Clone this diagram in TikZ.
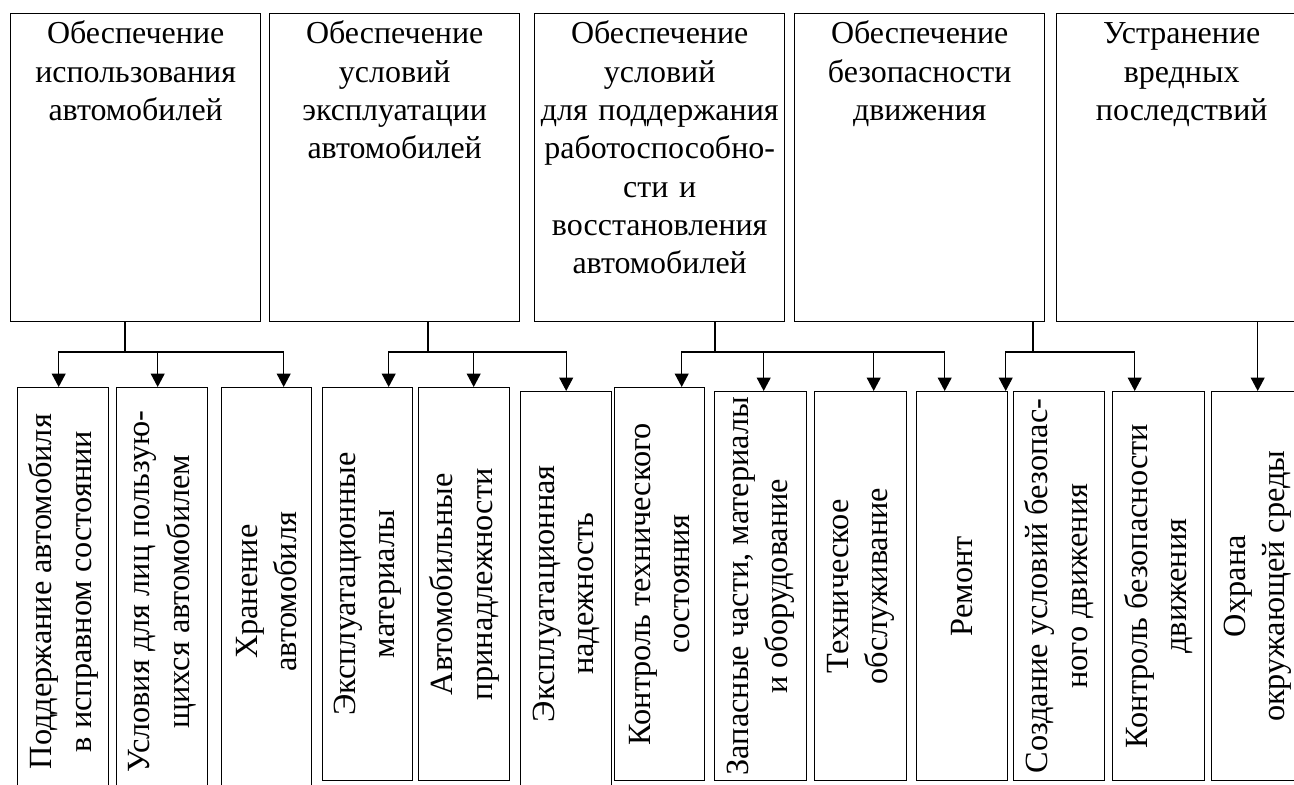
\documentclass[tikz,border=0pt]{standalone}
\usepackage{fontspec}
\setmainfont{Liberation Serif}
\usepackage{tikz}
\usetikzlibrary{arrows.meta,positioning}

\tikzset{
  topbox/.style={draw, line width=0.8pt, anchor=north west, minimum width=5cm, minimum height=6.16cm},
  toptext/.style={anchor=base, text width=5cm, align=center, inner sep=0pt, font=\fontsize{18.2}{21.8}\selectfont},
  lowbox/.style={draw, line width=0.8pt, anchor=north west},
  lowtext/.style={rotate=90, align=center, inner sep=0pt, font=\fontsize{18.4}{22.4}\selectfont},
  stem/.style={line width=0.7pt},
  feed/.style={line width=0.7pt, -{Triangle[width=0.28cm,length=0.27cm]}}
}

\begin{document}
\begin{tikzpicture}[x=0.02cm,y=-0.02cm]
\useasboundingbox (0,0) rectangle (1294,784);
\clip (0,0) rectangle (1294,784);
% upper row
\node[topbox] (t1) at (10,13) {};
  \node[toptext] at ([yshift=-0.62cm]t1.north) {Обеспечение\\использования\\автомобилей};
\node[topbox] (t2) at (269,13) {};
  \node[toptext] at ([yshift=-0.62cm]t2.north) {Обеспечение\\условий\\эксплуатации\\автомобилей};
\node[topbox] (t3) at (534,13) {};
  \node[toptext] at ([yshift=-0.62cm]t3.north) {Обеспечение\\условий\\для поддержания\\работоспособно-\\сти и\\восстановления\\автомобилей};
\node[topbox] (t4) at (794,13) {};
  \node[toptext] at ([yshift=-0.62cm]t4.north) {Обеспечение\\безопасности\\движения};
\node[topbox] (t5) at (1056,13) {};
  \node[toptext] at ([yshift=-0.62cm]t5.north) {Устранение\\вредных\\последствий};
% lower row
\node[lowbox, minimum width=1.82cm, minimum height=8.16cm] (b1) at (17,387) {};
  \node[lowtext] at (b1.center) {Поддержание автомобиля\\в исправном состоянии};
\node[lowbox, minimum width=1.82cm, minimum height=8.16cm] (b2) at (116,387) {};
  \node[lowtext] at (b2.center) {Условия для лиц пользую-\\щихся автомобилем};
\node[lowbox, minimum width=1.8cm, minimum height=8.16cm] (b3) at (221,387) {};
  \node[lowtext] at (b3.center) {Хранение\\автомобиля};
\node[lowbox, minimum width=1.8cm, minimum height=7.86cm] (b4) at (322,387) {};
  \node[lowtext] at (b4.center) {Эксплуатационные\\материалы};
\node[lowbox, minimum width=1.82cm, minimum height=7.86cm] (b5) at (418,387) {};
  \node[lowtext] at (b5.center) {Автомобильные\\принадлежности};
\node[lowbox, minimum width=1.82cm, minimum height=8.08cm] (b6) at (520,391) {};
  \node[lowtext] at (b6.center) {Эксплуатационная\\надежность};
\node[lowbox, minimum width=1.8cm, minimum height=7.86cm] (b7) at (614,387) {};
  \node[lowtext] at (b7.center) {Контроль технического\\состояния};
\node[lowbox, minimum width=1.84cm, minimum height=7.78cm] (b8) at (714,391) {};
  \node[lowtext] at (b8.center) {Запасные части, материалы\\и оборудование};
\node[lowbox, minimum width=1.84cm, minimum height=7.78cm] (b9) at (814,391) {};
  \node[lowtext] at (b9.center) {Техническое\\обслуживание};
\node[lowbox, minimum width=1.82cm, minimum height=7.78cm] (b10) at (916,391) {};
  \node[lowtext] at (b10.center) {Ремонт};
\node[lowbox, minimum width=1.82cm, minimum height=7.78cm] (b11) at (1013,391) {};
  \node[lowtext] at (b11.center) {Создание условий безопас-\\ного движения};
\node[lowbox, minimum width=1.84cm, minimum height=7.78cm] (b12) at (1112,391) {};
  \node[lowtext] at (b12.center) {Контроль безопасности\\движения};
\node[lowbox, minimum width=1.84cm, minimum height=7.78cm] (b13) at (1211,391) {};
  \node[lowtext] at (b13.center) {Охрана\\окружающей среды};
% junctions on the bus line
\coordinate (j1) at (125,352);
\coordinate (j2) at (428,352);
\coordinate (j3) at (715,352);
\coordinate (j4) at (1033,352);
\draw[stem] (t1.south -| j1) -- (j1);
  \draw[feed] (j1) -| ([xshift=-0.09cm]b1.north);
  \draw[feed] (j1) -| ([xshift=-0.09cm]b2.north);
  \draw[feed] (j1) -| ([xshift=0.34cm]b3.north);
\draw[stem] (t2.south -| j2) -- (j2);
  \draw[feed] (j2) -| ([xshift=0.42cm]b4.north);
  \draw[feed] (j2) -| ([xshift=0.19cm]b5.north);
  \draw[feed] (j2) -| (b6.north);
\draw[stem] (t3.south -| j3) -- (j3);
  \draw[feed] (j3) -| ([xshift=0.44cm]b7.north);
  \draw[feed] (j3) -| ([xshift=0.06cm]b8.north);
  \draw[feed] (j3) -| ([xshift=0.26cm]b9.north);
  \draw[feed] (j3) -| ([xshift=-0.35cm]b10.north);
\draw[stem] (t4.south -| j4) -- (j4);
  \draw[feed] (j4) -| ([xshift=-1.07cm]b11.north);
  \draw[feed] (j4) -| ([xshift=-0.48cm]b12.north);
\draw[feed] (t5.south -| b13.north) -- (b13.north);
\end{tikzpicture}
\end{document}
